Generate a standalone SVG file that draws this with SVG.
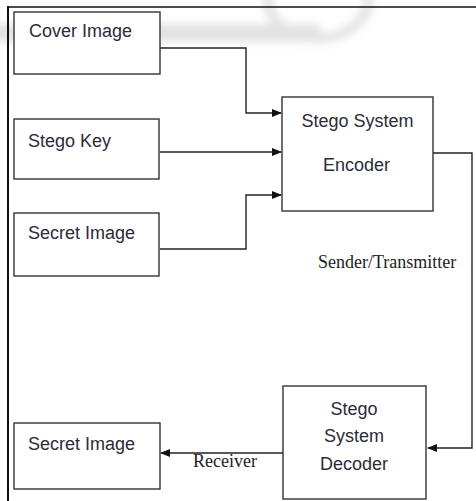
<svg xmlns="http://www.w3.org/2000/svg" width="476" height="501" viewBox="0 0 476 501">
<defs>
<style>
.box{fill:#fff;stroke:#333;stroke-width:1.4}
.lbl{font-family:"Liberation Sans",Arial,sans-serif;font-size:18px;fill:#2b2b3a}
.ser{font-family:"Liberation Serif","Times New Roman",serif;font-size:18px;fill:#222}
.ln{fill:none;stroke:#222;stroke-width:1.4}
</style>
<marker id="ah" markerWidth="10" markerHeight="8" refX="9" refY="4" orient="auto" markerUnits="userSpaceOnUse">
<path d="M0,0 L10,4 L0,8 Z" fill="#111"/>
</marker>
<filter id="blur" x="-20%" y="-50%" width="140%" height="200%"><feGaussianBlur stdDeviation="4"/></filter>
</defs>
<rect x="0" y="0" width="476" height="501" fill="#fff"/>
<g id="watermark" filter="url(#blur)" opacity="0.6">
<rect x="-10" y="24" width="330" height="18" fill="#cfcfcf"/>
<ellipse cx="318" cy="0" rx="50" ry="38" fill="none" stroke="#d0d0d0" stroke-width="10"/>
</g>
<g id="frame">
<line x1="8" y1="7" x2="476" y2="7" stroke="#111" stroke-width="1.5"/>
<line x1="8" y1="6" x2="8" y2="501" stroke="#111" stroke-width="2"/>
</g>
<g id="connectors">
<polyline class="ln" points="160,48 246,48 246,113 281,113" marker-end="url(#ah)"/>
<polyline class="ln" points="160,152 281,152" marker-end="url(#ah)"/>
<polyline class="ln" points="160,249 246,249 246,195 281,195" marker-end="url(#ah)"/>
<polyline class="ln" points="433,153 472,153 472,448 428,448" marker-end="url(#ah)"/>
<polyline class="ln" points="283,453 161,453" marker-end="url(#ah)"/>
<text class="ser" x="318" y="268">Sender/Transmitter</text>
<text class="ser" x="193" y="467">Receiver</text>
</g>
<g id="cover-image">
<rect class="box" x="14" y="12" width="146" height="62"/>
<text class="lbl" x="29" y="37">Cover Image</text>
</g>
<g id="stego-key">
<rect class="box" x="14" y="119" width="145" height="60"/>
<text class="lbl" x="28" y="147">Stego Key</text>
</g>
<g id="secret-image-in">
<rect class="box" x="14" y="213" width="145" height="63"/>
<text class="lbl" x="28" y="239">Secret Image</text>
</g>
<g id="encoder">
<rect class="box" x="282" y="97" width="151" height="114"/>
<text class="lbl" x="357.5" y="127" text-anchor="middle">Stego System</text>
<text class="lbl" x="356.5" y="171" text-anchor="middle">Encoder</text>
</g>
<g id="decoder">
<rect class="box" x="283" y="386" width="143" height="113"/>
<text class="lbl" x="354" y="415" text-anchor="middle">Stego</text>
<text class="lbl" x="354" y="442" text-anchor="middle">System</text>
<text class="lbl" x="354" y="470" text-anchor="middle">Decoder</text>
</g>
<g id="secret-image-out">
<rect class="box" x="14" y="423" width="146" height="66"/>
<text class="lbl" x="28" y="450">Secret Image</text>
</g>
</svg>
